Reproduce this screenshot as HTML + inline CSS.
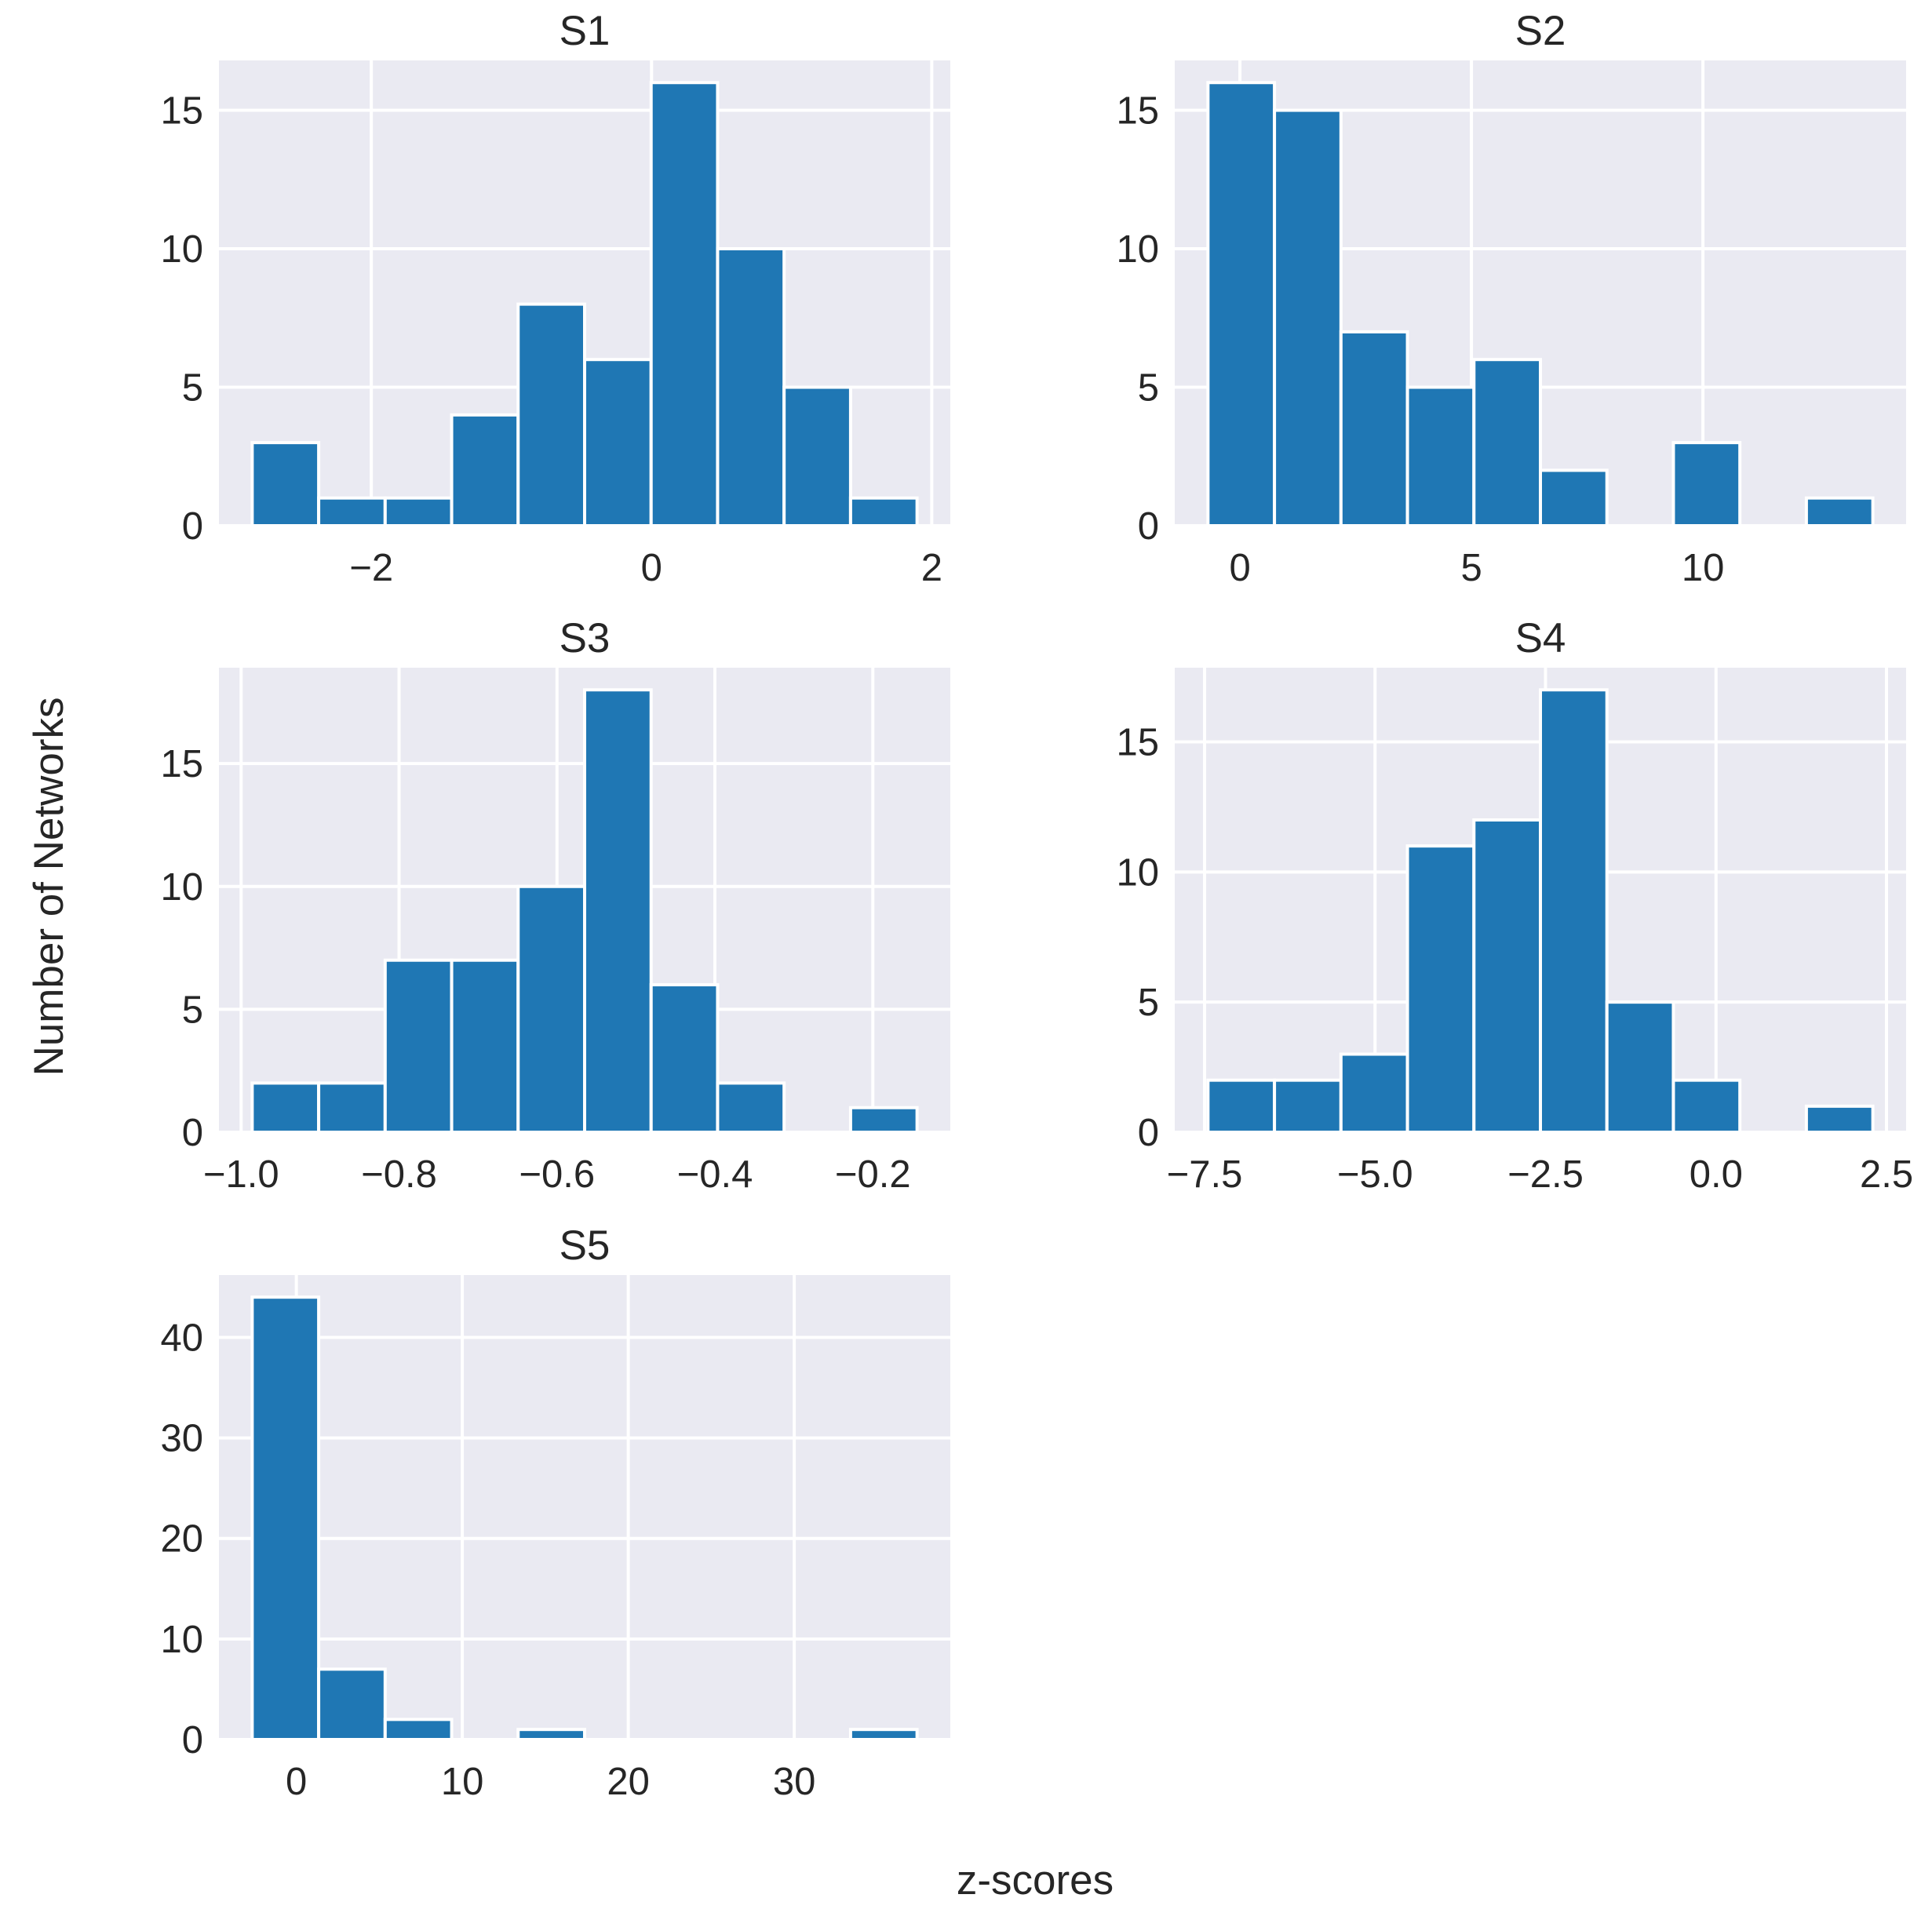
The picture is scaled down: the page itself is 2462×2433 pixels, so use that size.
<!DOCTYPE html>
<html><head><meta charset="utf-8"><style>
html,body{margin:0;padding:0;background:#fff;}
svg{display:block;font-family:"Liberation Sans",Arial,sans-serif;fill:#262626;}
</style></head><body>
<svg id="fig" width="2462" height="2433" viewBox="0 0 2462 2433" xmlns="http://www.w3.org/2000/svg">
<text x="0" y="0" font-size="53" text-anchor="middle" transform="translate(80,1130) rotate(-90)">Number of Networks</text>
<text x="1319" y="2414" font-size="53" text-anchor="middle">z-scores</text>
</svg>
<script>
// S1
const s1Counts=[3,1,1,4,8,6,16,10,5,1];
const s1Range=[-2.85,1.895];
const s1XTicks=[-2,0,2];
const s1XLabels=["\u22122","0","2"];
const s1YTicks=[0,5,10,15];
// S2
const s2Counts=[16,15,7,5,6,2,0,3,0,1];
const s2Range=[-0.69,13.67];
const s2XTicks=[0,5,10];
const s2XLabels=["0","5","10"];
const s2YTicks=[0,5,10,15];
// S3
const s3Counts=[2,2,7,7,10,18,6,2,0,1];
const s3Range=[-0.986,-0.144];
const s3XTicks=[-1.0,-0.8,-0.6,-0.4,-0.2];
const s3XLabels=["\u22121.0","\u22120.8","\u22120.6","\u22120.4","\u22120.2"];
const s3YTicks=[0,5,10,15];
// S4
const s4Counts=[2,2,3,11,12,17,5,2,0,1];
const s4Range=[-7.45,2.3];
const s4XTicks=[-7.5,-5.0,-2.5,0.0,2.5];
const s4XLabels=["\u22127.5","\u22125.0","\u22122.5","0.0","2.5"];
const s4YTicks=[0,5,10,15];
// S5
const s5Counts=[44,7,2,0,1,0,0,0,0,1];
const s5Range=[-2.66,37.4];
const s5XTicks=[0,10,20,30];
const s5XLabels=["0","10","20","30"];
const s5YTicks=[0,10,20,30,40];

const NS="http://www.w3.org/2000/svg";
const svg=document.getElementById('fig');
function mk(tag,attrs,parent){const e=document.createElementNS(NS,tag);for(const k in attrs)e.setAttribute(k,attrs[k]);(parent||svg).appendChild(e);return e;}

const panels=[
 {t:"S1",c:s1Counts,r:s1Range,xt:s1XTicks,xl:s1XLabels,yt:s1YTicks,x0:279,x1:1211,y0:77,y1:670},
 {t:"S2",c:s2Counts,r:s2Range,xt:s2XTicks,xl:s2XLabels,yt:s2YTicks,x0:1497,x1:2429,y0:77,y1:670},
 {t:"S3",c:s3Counts,r:s3Range,xt:s3XTicks,xl:s3XLabels,yt:s3YTicks,x0:279,x1:1211,y0:851,y1:1443},
 {t:"S4",c:s4Counts,r:s4Range,xt:s4XTicks,xl:s4XLabels,yt:s4YTicks,x0:1497,x1:2429,y0:851,y1:1443},
 {t:"S5",c:s5Counts,r:s5Range,xt:s5XTicks,xl:s5XLabels,yt:s5YTicks,x0:279,x1:1211,y0:1625,y1:2217}
];
panels.forEach(p=>{
  const g=mk('g',{});
  
  
  const span=p.r[1]-p.r[0];
  const xmin=p.r[0]-0.05*span, xmax=p.r[1]+0.05*span;
  const ymax=Math.max(...p.c)*1.05;
  const xs=v=>p.x0+(v-xmin)/(xmax-xmin)*(p.x1-p.x0);
  const ys=v=>p.y1-v/ymax*(p.y1-p.y0);
  const bg=mk('rect',{x:p.x0,y:p.y0,width:p.x1-p.x0,height:p.y1-p.y0,fill:'#EAEAF2'},g);
  
  
  p.yt.forEach(v=>{
    const l=mk('line',{x1:p.x0,x2:p.x1,y1:ys(v),y2:ys(v),stroke:'#fff','stroke-width':4},g);
    
    
    const t=mk('text',{x:p.x0-20,y:ys(v)+17,'font-size':49,'text-anchor':'end'},g);
    
    
    t.textContent=String(v);
  });
  p.xt.forEach((v,i)=>{
    const l=mk('line',{x1:xs(v),x2:xs(v),y1:p.y0,y2:p.y1,stroke:'#fff','stroke-width':4},g);
    
    
    const t=mk('text',{x:xs(v),y:p.y1+70,'font-size':49,'text-anchor':'middle'},g);
    
    
    t.textContent=p.xl[i];
  });
  const bw=span/p.c.length;
  p.c.forEach((v,i)=>{
    if(v<=0)return;
    const a=xs(p.r[0]+i*bw), b=xs(p.r[0]+(i+1)*bw);
    const r=mk('rect',{x:a,y:ys(v),width:b-a,height:ys(0)-ys(v),fill:'#1f77b4',stroke:'#fff','stroke-width':4},g);
    
    
  });
  const tt=mk('text',{x:(p.x0+p.x1)/2,y:p.y0-20,'font-size':53,'text-anchor':'middle'},g);
  
  
  tt.textContent=p.t;
});
</script>
</body></html>
